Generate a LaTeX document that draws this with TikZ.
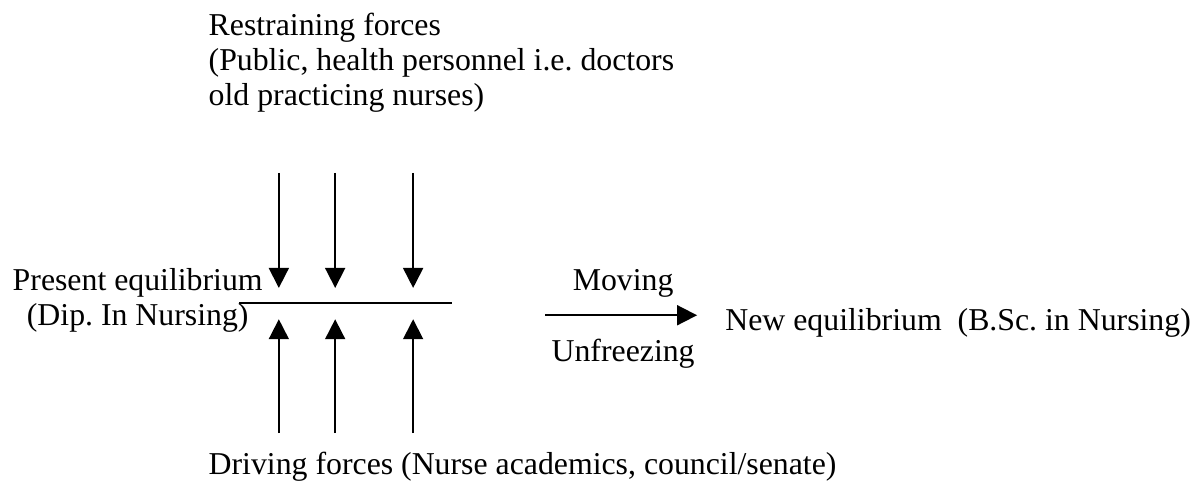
\documentclass[tikz,border=0pt]{standalone}
\usepackage{fontspec}
\setmainfont{Liberation Serif}
\frenchspacing
\usetikzlibrary{arrows.meta}
\tikzset{
  force/.style={-{Triangle[width=10pt,length=10pt]}, line width=0.9pt},
  lbl/.style={inner sep=0pt, font=\fontsize{15.9}{17.4}\selectfont}
}
\begin{document}
\begin{tikzpicture}
  \useasboundingbox (0,0) rectangle (21.07,-8.52);
  % forces pushing on the present state
  \node [lbl, anchor=north west, align=left](restrain)at (3.66,-0.23) {Restraining forces\\(Public, health personnel i.e. doctors\\old practicing nurses)};
  \node [lbl, anchor=base west](driving)at (3.66,-8.33) {Driving forces (Nurse academics, council/senate)};
  \node [lbl, anchor=north, align=center](present)at (2.42,-4.71) {Present equilibrium\\(Dip. In Nursing)};
  \coordinate (eql) at (4.20,-5.33);
  \coordinate (eqr) at (7.94,-5.33);
  \draw [line width=0.9pt](eql)--(eqr);
  \foreach \x/\n in {4.90/a,5.89/b,7.26/c}{
    \coordinate (rs\n) at (\x,-3.04);
    \coordinate (rt\n) at (\x,-5.06);
    \coordinate (ds\n) at (\x,-7.61);
    \coordinate (dt\n) at (\x,-5.61);
    \draw [force](rs\n)--(rt\n);
    \draw [force](ds\n)--(dt\n);
  }
  % change towards the new state
  \node [lbl, anchor=base west](neweq)at (12.74,-5.80) {New equilibrium\ \ (B.Sc. in Nursing)};
  \coordinate (ms) at (9.58,-5.54);
  \draw [force, shorten >=0.49cm](ms)--(ms -| neweq.west);
  \node [lbl, anchor=base](moving)at (10.95,-5.10) {Moving};
  \node [lbl, anchor=base](unfreeze)at (10.95,-6.36) {Unfreezing};
\end{tikzpicture}
\end{document}
